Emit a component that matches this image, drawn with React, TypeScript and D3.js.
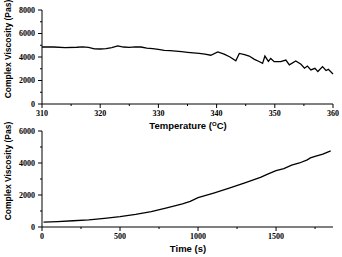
import * as d3 from 'd3';

// Top panel: viscosity vs temperature
const tempC = [310, 312, 314, 316, 317, 318, 319, 320, 321, 322, 323, 324, 325, 326, 327, 328, 329, 330, 331, 332,
  333, 334, 335, 336, 337, 338, 339, 340.2, 341.3, 342.3, 343.3, 343.9, 344.8, 345.6, 346.5, 347.3, 347.9, 348.3,
  348.9, 349.3, 349.9, 351, 351.9, 352.5, 353.6, 354.5, 355.1, 355.6, 356.2, 356.9, 357.4, 358.2, 358.8, 359.2, 360];
const viscT = [4850, 4850, 4800, 4830, 4860, 4820, 4700, 4680, 4720, 4800, 4950, 4850, 4820, 4870, 4850, 4750, 4720, 4650, 4560, 4540,
  4500, 4450, 4400, 4350, 4300, 4250, 4150, 4430, 4250, 4000, 3680, 4300, 4200, 4080, 3800, 3620, 3460, 4080,
  3620, 3880, 3600, 3600, 3740, 3330, 3660, 3380, 3050, 3230, 2900, 3040, 2760, 3180, 2850, 2950, 2560];

// Bottom panel: viscosity vs time
const timeS = [10, 100, 200, 300, 400, 500, 600, 700, 800, 900, 950, 1000, 1100, 1200, 1300, 1400, 1450, 1500,
  1550, 1600, 1650, 1700, 1720, 1750, 1800, 1850];
const viscS = [300, 340, 390, 450, 540, 650, 790, 960, 1200, 1450, 1600, 1830, 2120, 2430, 2760, 3100, 3320, 3520,
  3650, 3870, 4000, 4200, 4320, 4420, 4560, 4760];

const tempTicks = [310, 320, 330, 340, 350, 360];
const viscTicksTop = [0, 2000, 4000, 6000, 8000];
const timeTicks = [0, 500, 1000, 1500];
const viscTicksBottom = [0, 2000, 4000, 6000];

const W = 342, H = 257;
const serif = '"Liberation Serif", "Times New Roman", serif';
const sans = '"Liberation Sans", Arial, sans-serif';

type PanelProps = {
  xs: number[]; ys: number[];
  xDomain: [number, number]; yDomain: [number, number];
  top: number; bottom: number;
  xTicks: number[]; yTicks: number[];
  xMinor: number; yMinor: number;
  xTitle: React.ReactNode;
};

const Panel = ({ xs, ys, xDomain, yDomain, top, bottom, xTicks, yTicks, xMinor, yMinor, xTitle }: PanelProps) => {
  const x = d3.scaleLinear().domain(xDomain).range([42, 333]);
  const y = d3.scaleLinear().domain(yDomain).range([bottom, top]);
  const line = d3.line<number>().x((d, i) => x(xs[i])).y(d => y(d));
  const xm = d3.range(xDomain[0] + xMinor, xDomain[1], xMinor * 2).filter(v => v < xDomain[1]);
  const ym = d3.range(yDomain[0] + yMinor, yDomain[1], yMinor * 2);
  return (
    <g>
      <line x1={42} x2={42} y1={top} y2={bottom} stroke="#000" strokeWidth={1} />
      <line x1={42} x2={333} y1={bottom} y2={bottom} stroke="#000" strokeWidth={1} />
      {yTicks.map(t => (
        <g key={'y' + t}>
          <line x1={38} x2={42} y1={y(t)} y2={y(t)} stroke="#000" />
          <text x={35} y={y(t)} dy="0.35em" textAnchor="end" fontFamily={serif} fontWeight="bold" fontSize={8}>{t}</text>
        </g>
      ))}
      {ym.map(t => <line key={'ym' + t} x1={40} x2={42} y1={y(t)} y2={y(t)} stroke="#000" />)}
      {xTicks.map(t => (
        <g key={'x' + t}>
          <line x1={x(t)} x2={x(t)} y1={bottom} y2={bottom + 4} stroke="#000" />
          <text x={x(t)} y={bottom + 12} textAnchor="middle" fontFamily={serif} fontWeight="bold" fontSize={8}>{t}</text>
        </g>
      ))}
      {xm.map(t => <line key={'xm' + t} x1={x(t)} x2={x(t)} y1={bottom} y2={bottom + 2} stroke="#000" />)}
      <path d={line(ys) ?? ''} fill="none" stroke="#000" strokeWidth={1.3} />
      <text x={8} y={0} transform={`translate(11,${(top + bottom) / 2}) rotate(-90)`} textAnchor="middle"
        fontFamily={sans} fontWeight="bold" fontSize={8.5}>Complex Viscosity (Pas)</text>
      <text x={188} y={bottom + 25} textAnchor="middle" fontFamily={sans} fontWeight="bold" fontSize={9.5}>{xTitle}</text>
    </g>
  );
};

export default function App() {
  return (
    <svg width={W} height={H} style={{ position: 'absolute', left: 0, top: 0, background: '#fff' }}>
      <Panel xs={tempC} ys={viscT} xDomain={[310, 360]} yDomain={[0, 8000]} top={10} bottom={104}
        xTicks={tempTicks} yTicks={viscTicksTop} xMinor={5} yMinor={1000}
        xTitle={<>Temperature (<tspan baselineShift="super" fontSize={6}>O</tspan>C)</>} />
      <Panel xs={timeS} ys={viscS} xDomain={[0, 1865]} yDomain={[0, 6000]} top={131} bottom={227}
        xTicks={timeTicks} yTicks={viscTicksBottom} xMinor={250} yMinor={1000}
        xTitle="Time (s)" />
    </svg>
  );
}
